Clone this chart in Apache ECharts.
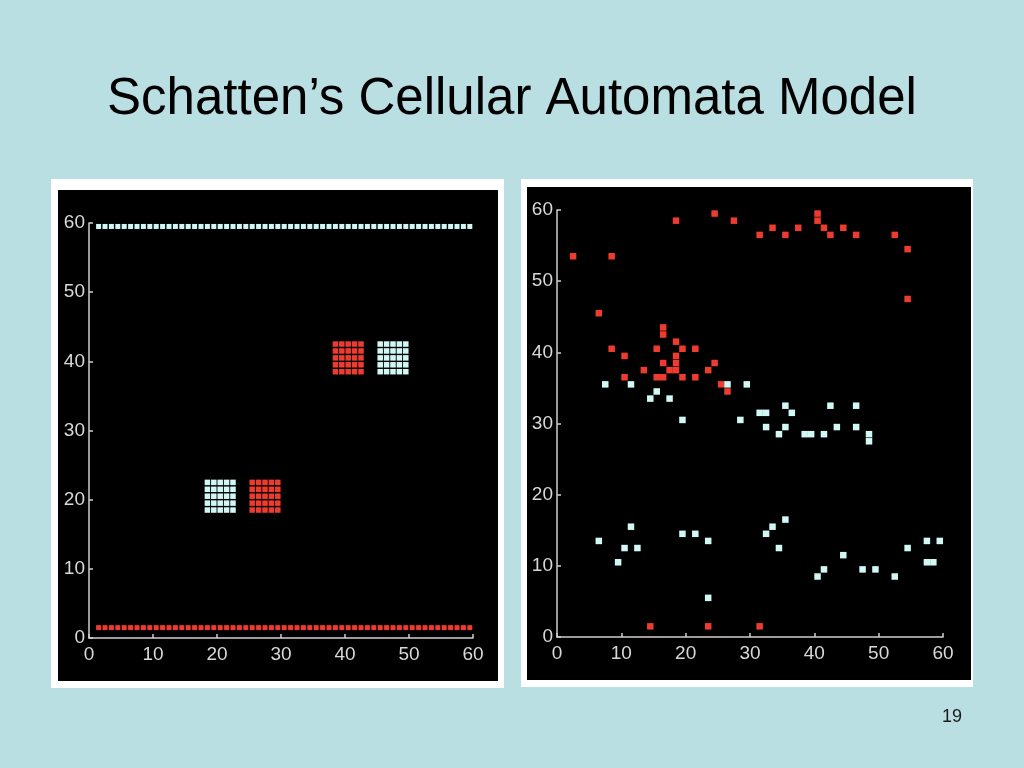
<!DOCTYPE html>
<html>
<head>
<meta charset="utf-8">
<script src="https://cdn.jsdelivr.net/npm/echarts@6/dist/echarts.min.js"></script>
<style>
html,body{margin:0;padding:0;background:#BADFE3;}
#c{width:1024px;height:768px;}
</style>
</head>
<body>
<div id="c"></div>
<script>
// ---- Data ----
var titleText = 'Schatten\u2019s Cellular Automata Model';
var pageNumber = '19';
var tickLabels = [0, 10, 20, 30, 40, 50, 60];

// Left panel: full rows of cells
var rowCellX = [1.5,2.5,3.5,4.5,5.5,6.5,7.5,8.5,9.5,10.5,11.5,12.5,13.5,14.5,15.5,16.5,17.5,18.5,19.5,20.5,
  21.5,22.5,23.5,24.5,25.5,26.5,27.5,28.5,29.5,30.5,31.5,32.5,33.5,34.5,35.5,36.5,37.5,38.5,39.5,40.5,
  41.5,42.5,43.5,44.5,45.5,46.5,47.5,48.5,49.5,50.5,51.5,52.5,53.5,54.5,55.5,56.5,57.5,58.5,59.5];
var cyanRowY = 59.5;
var redRowY = 1.5;

// Left panel: 5x5 blocks (column values, row values)
var cyanBlockLowCols = [18.5,19.5,20.5,21.5,22.5];
var cyanBlockLowRows = [18.5,19.5,20.5,21.5,22.5];
var redBlockLowCols  = [25.5,26.5,27.5,28.5,29.5];
var redBlockLowRows  = [18.5,19.5,20.5,21.5,22.5];
var redBlockHighCols = [38.5,39.5,40.5,41.5,42.5];
var redBlockHighRows = [38.5,39.5,40.5,41.5,42.5];
var cyanBlockHighCols= [45.5,46.5,47.5,48.5,49.5];
var cyanBlockHighRows= [38.5,39.5,40.5,41.5,42.5];

// Right panel: scattered cells
var redScatter = [
  [2.5,53.5],[8.5,53.5],[18.5,58.5],[24.5,59.5],[27.5,58.5],[31.5,56.5],[33.5,57.5],[35.5,56.5],
  [37.5,57.5],[40.5,59.5],[40.5,58.5],[41.5,57.5],[42.5,56.5],[44.5,57.5],[46.5,56.5],[52.5,56.5],
  [54.5,54.5],[54.5,47.5],[6.5,45.5],[8.5,40.5],[10.5,39.5],[10.5,36.5],[13.5,37.5],[15.5,40.5],
  [15.5,36.5],[16.5,43.5],[16.5,42.5],[16.5,38.5],[16.5,36.5],[17.5,37.5],[18.5,41.5],[18.5,39.5],
  [18.5,38.5],[18.5,37.5],[19.5,40.5],[19.5,36.5],[21.5,40.5],[21.5,36.5],[23.5,37.5],[24.5,38.5],
  [25.5,35.5],[26.5,34.5],[14.5,1.5],[23.5,1.5],[31.5,1.5]
];
var cyanScatter = [
  [7.5,35.5],[11.5,35.5],[14.5,33.5],[15.5,34.5],[17.5,33.5],[19.5,30.5],[26.5,35.5],[29.5,35.5],
  [28.5,30.5],[31.5,31.5],[32.5,31.5],[32.5,29.5],[34.5,28.5],[35.5,32.5],[35.5,29.5],[36.5,31.5],
  [38.5,28.5],[39.5,28.5],[41.5,28.5],[42.5,32.5],[43.5,29.5],[46.5,32.5],[46.5,29.5],[48.5,28.5],
  [48.5,27.5],[6.5,13.5],[9.5,10.5],[10.5,12.5],[11.5,15.5],[12.5,12.5],[19.5,14.5],[21.5,14.5],
  [23.5,13.5],[23.5,5.5],[32.5,14.5],[33.5,15.5],[34.5,12.5],[35.5,16.5],[40.5,8.5],[41.5,9.5],
  [44.5,11.5],[47.5,9.5],[49.5,9.5],[52.5,8.5],[54.5,12.5],[57.5,13.5],[57.5,10.5],[58.5,10.5],
  [59.5,13.5]
];

// ---- Build tables ----
function rowPoints(xs, y){ return xs.map(function(x){ return [x, y]; }); }
function blockPoints(cols, rows){
  var out = [];
  rows.forEach(function(y){ cols.forEach(function(x){ out.push([x, y]); }); });
  return out;
}
var leftCyanRow = rowPoints(rowCellX, cyanRowY);
var leftRedRow = rowPoints(rowCellX, redRowY);
var leftCyanBlocks = blockPoints(cyanBlockLowCols, cyanBlockLowRows)
  .concat(blockPoints(cyanBlockHighCols, cyanBlockHighRows));
var leftRedBlocks = blockPoints(redBlockLowCols, redBlockLowRows)
  .concat(blockPoints(redBlockHighCols, redBlockHighRows));

var RED = '#EE3B2F', CYAN = '#D2F8F6', AXIS = '#CFCFCF', LABEL = '#D8D8D8';
var axisFont = '"Liberation Sans Narrow", "Liberation Sans", Arial, sans-serif';

function mkAxis(gi, isX){
  return {
    type: 'value', gridIndex: gi, min: 0, max: 60, interval: 10,
    axisLine: {show: true, onZero: false, lineStyle: {color: AXIS, width: 1.5}},
    axisTick: {show: true, inside: true, length: 4, lineStyle: {color: AXIS, width: 1.5}},
    splitLine: {show: false},
    axisLabel: {
      color: LABEL, fontSize: 19, fontFamily: axisFont, margin: isX ? 7 : 4,
      formatter: function(v){ return tickLabels.indexOf(v) >= 0 ? String(v) : ''; }
    }
  };
}

function sc(xi, data, color, size){
  return {type: 'scatter', xAxisIndex: xi, yAxisIndex: xi, data: data, symbol: 'rect',
    symbolSize: size, itemStyle: {color: color, opacity: 1}, emphasis: {disabled: true}};
}

var chart = echarts.init(document.getElementById('c'), null, {renderer: 'canvas'});
chart.setOption({
  backgroundColor: '#BADFE3',
  animation: false,
  graphic: [
    {type: 'rect', z: -10, shape: {x: 51, y: 179, width: 453, height: 509}, style: {fill: '#FFFFFF'}},
    {type: 'rect', z: -9, shape: {x: 58, y: 190, width: 440, height: 491}, style: {fill: '#000000'}},
    {type: 'rect', z: -10, shape: {x: 521, y: 179, width: 452, height: 508}, style: {fill: '#FFFFFF'}},
    {type: 'rect', z: -9, shape: {x: 527, y: 187, width: 444, height: 493}, style: {fill: '#000000'}},
    {type: 'text', z: 5, x: 512, y: 100, style: {
      text: titleText, fill: '#000', fontSize: 51,
      fontFamily: '"Liberation Sans", Arial, sans-serif', align: 'center', verticalAlign: 'middle'}},
    {type: 'text', z: 5, x: 952, y: 717, style: {
      text: pageNumber, fill: '#1a1a1a', fontSize: 18,
      fontFamily: '"Liberation Sans", Arial, sans-serif', align: 'center', verticalAlign: 'middle'}}
  ],
  grid: [
    {left: 89, top: 223, width: 384, height: 415, containLabel: false},
    {left: 557, top: 210, width: 386, height: 427, containLabel: false}
  ],
  xAxis: [mkAxis(0, true), mkAxis(1, true)],
  yAxis: [mkAxis(0, false), mkAxis(1, false)],
  series: [
    sc(0, leftCyanRow, CYAN, [5, 5]),
    sc(0, leftRedRow, RED, [5, 5]),
    sc(0, leftCyanBlocks, CYAN, [5.5, 5.5]),
    sc(0, leftRedBlocks, RED, [5.5, 5.5]),
    sc(1, redScatter, RED, [6.5, 6.5]),
    sc(1, cyanScatter, CYAN, [6.5, 6.5])
  ]
});
</script>
</body>
</html>
